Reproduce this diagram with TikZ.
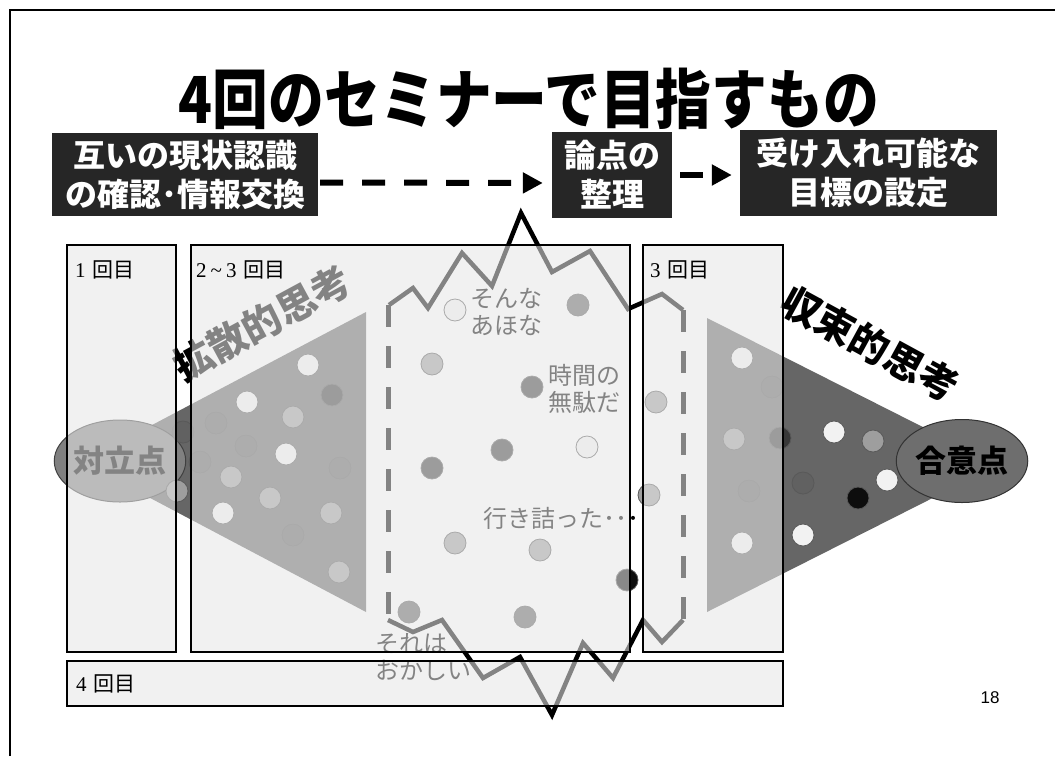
\documentclass[tikz,border=0pt]{standalone}
\usepackage{fontspec}
\usetikzlibrary{shapes.geometric,arrows.meta}
\newfontfamily\jp{Noto Sans CJK JP}
\newfontfamily\ser{Liberation Serif}
\newfontfamily\arl{Liberation Sans}
\newcommand\myfs[2]{\fontsize{#1}{#2}\selectfont}
\definecolor{boxbg}{gray}{0.15}
\definecolor{ovl}{gray}{0.91}
\definecolor{tric}{gray}{0.40}
\definecolor{oppc}{gray}{0.50}
\definecolor{agrc}{gray}{0.43}
\definecolor{cW}{gray}{0.95}
\definecolor{cL}{gray}{0.62}
\definecolor{cM}{gray}{0.38}
\definecolor{cD}{gray}{0.22}
\definecolor{cK}{gray}{0.05}
\begin{document}
\begin{tikzpicture}[x=1pt,y=-1pt,
  topbox/.style={fill=boxbg, text=white, font=\jp\bfseries\myfs{32}{39}, align=center, inner sep=0pt},
  panel/.style={draw=black, line width=2.5pt, fill=ovl, fill opacity=0.57},
  plabel/.style={anchor=west, inner sep=0pt, font=\myfs{21}{24}},
  talk/.style={text=black, font=\jp\myfs{24}{27}, inner sep=0pt},
  dot/.style={draw=black!65, line width=0.8pt},
  zig/.style={line width=4.5pt, line join=miter},
  zdash/.style={line width=5pt, dash pattern=on 22pt off 19pt},
  arr/.style={line width=6pt, dash pattern=on 23pt off 19pt, -{Triangle[length=20pt,width=20pt]}},
  blob/.style={ellipse, inner sep=0pt, font=\jp\bfseries\myfs{31}{31}},
  slant/.style={inner sep=0pt, font=\jp\bfseries\myfs{39}{39}}
]
\useasboundingbox (0,0) rectangle (1055,756);
\fill[white] (0,0) rectangle (1055,756);

% triangles
\fill[tric] (82,462) -- (366,312) -- (366,612) -- cycle;
\fill[tric] (998,465) -- (707,318) -- (707,612) -- cycle;

% ellipses
\node[blob, fill=oppc, draw=black!75, line width=1pt, minimum width=110pt, minimum height=82pt, text=black] (opp) at (120,461) {対立点};
\node[blob, fill=agrc, draw=black!80, line width=1pt, minimum width=109pt, minimum height=83pt, text=black] (agr) at (962,461) {合意点};

% circles
\foreach \px/\py/\cc in {
  308/365/cW, 332/395/cD, 247/402/cW, 216/423/cM, 293/417/cL, 246/446/cM,
  286/454/cW, 183/432/cM, 200/462/cM, 231/477/cL, 340/468/cM, 270/498/cL,
  177/491/cL, 223/513/cW, 331/513/cL, 293/535/cM, 339/572/cL,
  455/310/cW, 578/305/cM, 432/364/cL, 532/387/cD, 502/450/cD, 587/447/cW,
  432/468/cD, 455/543/cL, 540/550/cL, 627/580/cK, 409/612/cM, 525/617/cM,
  656/402/cL, 649/495/cL, 742/358/cW, 734/439/cL, 749/491/cM, 742/543/cW,
  772/387/cM, 780/438/cD,
  834/432/cW, 873/441/cL, 803/483/cM, 858/498/cK, 887/480/cW, 803/535/cW}
  \filldraw[dot, fill=\cc] (\px,\py) circle (11);

% jagged outline
\draw[zig] (389,305) -- (413,288) -- (428,308) -- (462,253) -- (492,286) -- (521,213)
  -- (552,272) -- (590,251) -- (628,309) -- (662,294) -- (683,310);
\draw[zig] (683,620) -- (662,642) -- (643,620) -- (613,678) -- (583,643) -- (552,715)
  -- (520,657) -- (483,678) -- (442,620) -- (413,632) -- (388,620);
\draw[zdash] (388.5,305) -- (388.5,620);
\draw[zdash] (683,310) -- (683,620);

% diagonal texts
\node[slant, rotate=28.4] (div) at (262,323) {拡散的思考};
\node[slant, rotate=-28.6] (conv) at (870,344) {収束的思考};

% murmurs
\node[talk, align=center] (s1) at (506,312) {そんな\\あほな};
\node[talk, align=center] (s2) at (584,389) {時間の\\無駄だ};
\node[talk, anchor=west] (s3) at (483,518) {行き詰った･･･};
\node[talk, align=left, anchor=west] (s4) at (375,657) {それは\\おかしい};

% panels (translucent)
\draw[panel] (67,245) rectangle (176,652);
\draw[panel] (191,245) rectangle (630,652);
\draw[panel] (643,245) rectangle (783,652);
\draw[panel] (67,661) rectangle (783,706);

\node[plabel] (l1) at (75,270) {{\ser 1}\hspace{7pt}{\jp 回目}};
\node[plabel] (l2) at (196,270) {{\ser 2\hspace{4pt}\textasciitilde\hspace{4pt}3}\hspace{7pt}{\jp 回目}};
\node[plabel] (l3) at (650,270) {{\ser 3}\hspace{7pt}{\jp 回目}};
\node[plabel] (l4) at (76,684) {{\ser 4}\hspace{7pt}{\jp 回目}};

% top boxes
\node[topbox, minimum width=266pt, minimum height=83pt] (b1) at (185,174.5) {互いの現状認識\\の確認･情報交換};
\node[topbox, minimum width=120pt, minimum height=86pt] (b2) at (612,175) {論点の\\整理};
\node[topbox, minimum width=257pt, minimum height=86pt] (b3) at (868.5,173) {受け入れ可能な\\目標の設定};

\draw[arr, shorten <=2pt, shorten >=9pt] ([yshift=-8pt]b1.east) -- ([yshift=-8pt]b2.west);
\draw[arr, shorten <=8pt, shorten >=8pt] (b2.east) -- (b2.east -| b3.west);

% title
\node[font=\jp\bfseries\myfs{60}{60}, inner sep=0pt, xscale=0.93, yscale=1.08] (title) at (529,99) {4回のセミナーで目指すもの};

\node[font=\arl\myfs{17}{17}, inner sep=0pt] (pg) at (990,698) {18};

% frame
\draw[line width=2pt] (10,756) -- (10,10) -- (1055,10);
\end{tikzpicture}
\end{document}
